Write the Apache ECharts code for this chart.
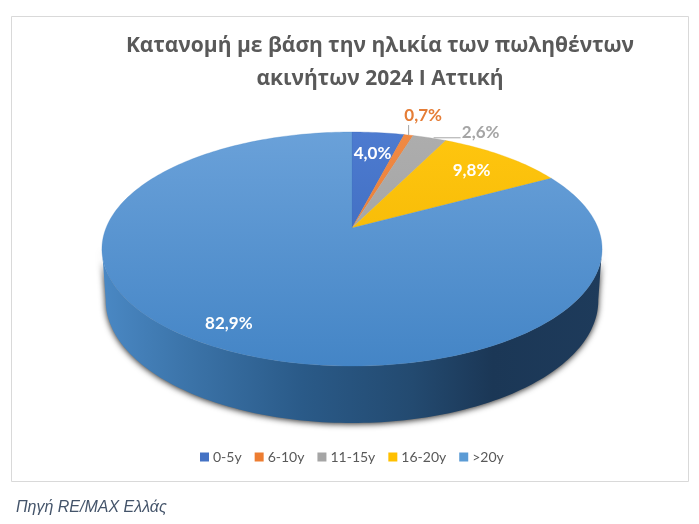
<!DOCTYPE html>
<html><head><meta charset="utf-8">
<style>html,body{margin:0;padding:0;background:#fff}#c{width:699px;height:524px}</style>
<script src="https://cdn.jsdelivr.net/npm/echarts@6/dist/echarts.min.js"></script>
</head><body><div id="c"></div>
<script>
const titleLines = ['Κατανομή με βάση την ηλικία των πωληθέντων', 'ακινήτων 2024 Ι Αττική'];
const sourceNote = 'Πηγή RE/MAX Ελλάς';
const categories = ['0-5y', '6-10y', '11-15y', '16-20y', '>20y'];
const shares = [4.0, 0.7, 2.6, 9.8, 82.9];

// styling per slice
const legendColors = ['#4472c4', '#ed7d31', '#a5a5a5', '#ffc000', '#5b9bd5'];
const topStops = [['#4d7bd0', '#3562b4'], ['#f08a45', '#e67325'], ['#adadad', '#9c9c9c'], ['#ffc60f', '#eeb000'], ['#6aa1d9', '#4485c6']];
const labelColors = ['#fff', '#e57d36', '#a5a5a5', '#fff', '#fff'];
// label placement: inside = fraction of radius; outside = offset from the rim with a leader line
const labelPlace = [{ r: .755 }, { dx: 14.5, dy: -20, lx: 0, ly: -10 }, { dx: 51, dy: -5, lx: 31, ly: 0, sx: 4 }, { r: .77 }, { r: .85 }];

// perspective disc projection
const CX = 352, APEX = 228, R = 246, KY = -72.3, PC = .1795;
const proj = (th, r) => {
  const u = Math.sin(th) * r, v = Math.cos(th) * r, d = 1 + PC * v;
  return [CX + R * u / d, (APEX + KY * v) / d];
};
const lowerRim = th => {
  const p = proj(th, 1), v = Math.cos(th);
  return [CX + (p[0] - CX) * .985, p[1] + 50 - 7 * v];
};
const total = shares.reduce((a, b) => a + b, 0);
const arc = (a, b, fn) => {
  const n = Math.max(2, Math.ceil((b - a) / .02)), out = [];
  for (let i = 0; i <= n; i++) out.push(fn(a + (b - a) * i / n));
  return out;
};
const WALL_A = 100 * Math.PI / 180, WALL_B = 260 * Math.PI / 180;

function renderSlice(params, api) {
  const i = params.seriesIndex;
  const start = shares.slice(0, i).reduce((a, b) => a + b, 0) / total * 2 * Math.PI;
  const end = start + api.value(0) / total * 2 * Math.PI;
  const mid = (start + end) / 2;
  const children = [];
  const a = Math.max(start, WALL_A), b = Math.min(end, WALL_B);
  if (b > a) {
    const pts = arc(a, b, t => proj(t, 1)).concat(arc(a, b, lowerRim).reverse());
    children.push({
      type: 'polygon', shape: { points: pts },
      style: {
        fill: {
          type: 'linear', global: true, x: 102, y: 0, x2: 603, y2: 0,
          colorStops: [{ offset: 0, color: '#4a88c4' }, { offset: .15, color: '#3d76ac' }, { offset: .4, color: '#2a5a88' },
            { offset: .62, color: '#234a70' }, { offset: .78, color: '#1b3756' }, { offset: 1, color: '#1e3b5b' }]
        },
        shadowColor: 'rgba(0,0,0,.85)', shadowBlur: 6, shadowOffsetY: 1
      }
    });
  }
  const pts = [proj(0, 0)].concat(arc(start, end, t => proj(t, 1)));
  children.push({
    type: 'polygon', shape: { points: pts },
    style: {
      fill: {
        type: 'linear', global: true, x: 0, y: 132, x2: 0, y2: 366,
        colorStops: [{ offset: 0, color: topStops[i][0] }, { offset: 1, color: topStops[i][1] }]
      },
      stroke: topStops[i][1], lineWidth: .3
    }
  });
  const place = labelPlace[i];
  let lx, ly;
  if (place.r) {
    [lx, ly] = proj(mid, place.r);
  } else {
    const rim = proj(mid, 1);
    lx = rim[0] + place.dx; ly = rim[1] + place.dy;
    children.push({
      type: 'polyline',
      shape: { points: [[rim[0] + (place.sx || 0), rim[1]], [rim[0] + place.lx, rim[1] + place.ly]] },
      style: { fill: 'none', stroke: '#a6a6a6', lineWidth: 1 }
    });
  }
  children.push({
    type: 'text', x: lx, y: ly,
    style: {
      text: api.value(0).toFixed(1).replace('.', ',') + '%', fill: labelColors[i],
      font: 'bold 17px Lato, "Open Sans", sans-serif', align: 'center', verticalAlign: 'middle',
      shadowColor: i === 1 || i === 2 ? 'transparent' : 'rgba(0,0,0,.35)', shadowBlur: 2
    }
  });
  return { type: 'group', children };
}

const chart = echarts.init(document.getElementById('c'), null, { renderer: 'canvas' });
chart.setOption({
  animation: false,
  backgroundColor: '#fff',
  title: [
    { text: titleLines.join('\n'), left: 375, top: 25, textAlign: 'center',
      textStyle: { fontFamily: '"Open Sans"', fontWeight: 'bold', fontSize: 21, color: '#595959', lineHeight: 33 } },
    { text: sourceNote, left: 11, top: 495,
      textStyle: { fontFamily: '"Liberation Sans"', fontStyle: 'italic', fontWeight: 'normal', fontSize: 16, color: '#44546a' } }
  ],
  legend: {
    data: categories, left: 200, top: 450, icon: 'rect', itemWidth: 9, itemHeight: 9, itemGap: 13, padding: 0,
    textStyle: { fontFamily: 'Lato', fontSize: 14, color: '#595959', padding: [0, 0, 0, -1] }
  },
  graphic: [{
    type: 'rect', silent: true, z: -1,
    shape: { x: 11.5, y: 16.5, width: 677, height: 465 },
    style: { fill: '#fff', stroke: '#d9d9d9', lineWidth: 1 }
  }],
  series: categories.map((name, i) => ({
    type: 'custom', name, coordinateSystem: 'none', renderItem: renderSlice, silent: true,
    itemStyle: { color: legendColors[i] }, data: [[shares[i]]], z: 2
  }))
});
</script></body></html>
